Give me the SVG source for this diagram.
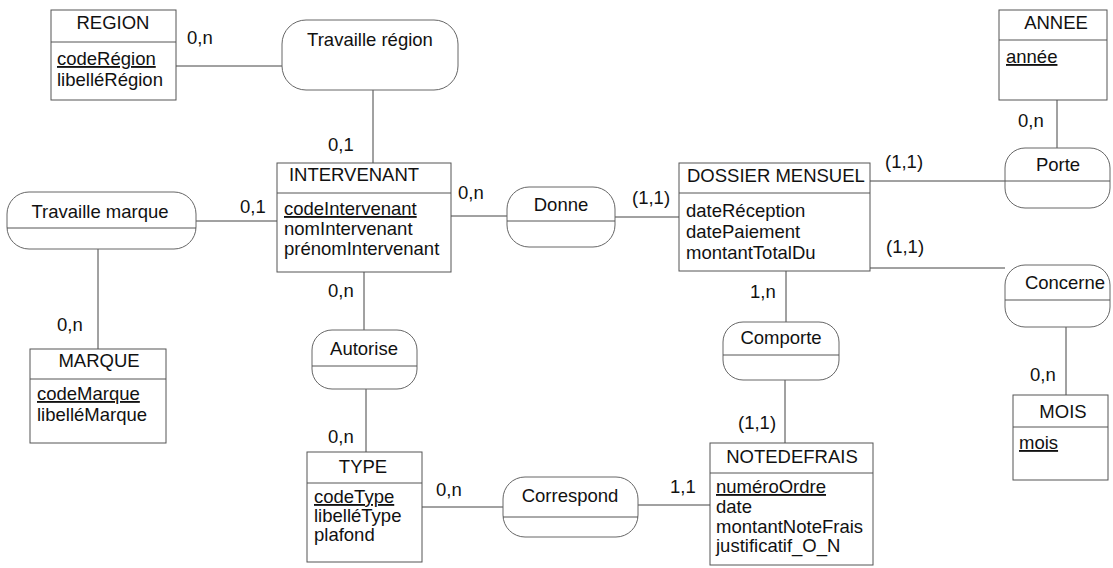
<svg xmlns="http://www.w3.org/2000/svg" width="1113" height="568" viewBox="0 0 1113 568">
<style>
  .bg{fill:#fff}
  .ent{fill:#fff;stroke:#555;stroke-width:1}
  .ass{fill:#fff;stroke:#666;stroke-width:1}
  .div{stroke:#555;stroke-width:1}
  .ln{stroke:#444;stroke-width:1;fill:none}
  text{font-family:"Liberation Sans",Arial,sans-serif;font-size:18.5px;fill:#111}
  .c{text-anchor:middle}
  .u{text-decoration:underline}
</style>
<rect class="bg" x="0" y="0" width="1113" height="568"/>

<g id="connectors">
  <line class="ln" x1="176" y1="66" x2="282" y2="66"/>
  <line class="ln" x1="373" y1="90" x2="373" y2="163"/>
  <line class="ln" x1="196" y1="221" x2="277" y2="221"/>
  <line class="ln" x1="98" y1="249" x2="98" y2="349"/>
  <line class="ln" x1="451" y1="216" x2="507" y2="216"/>
  <line class="ln" x1="615" y1="217" x2="679" y2="217"/>
  <line class="ln" x1="364" y1="272" x2="364" y2="330"/>
  <line class="ln" x1="366" y1="389" x2="366" y2="452"/>
  <line class="ln" x1="422" y1="507" x2="503" y2="507"/>
  <line class="ln" x1="638" y1="505" x2="710" y2="505"/>
  <line class="ln" x1="786" y1="271" x2="786" y2="322"/>
  <line class="ln" x1="785" y1="380" x2="785" y2="443"/>
  <line class="ln" x1="870" y1="181" x2="1005" y2="181"/>
  <line class="ln" x1="870" y1="268" x2="1005" y2="268"/>
  <line class="ln" x1="1057" y1="100" x2="1057" y2="148"/>
  <line class="ln" x1="1066" y1="327" x2="1066" y2="395"/>
  <text x="187" y="44">0,n</text>
  <text x="328" y="151">0,1</text>
  <text x="240" y="213">0,1</text>
  <text x="57" y="331">0,n</text>
  <text x="458" y="199">0,n</text>
  <text x="632" y="204">(1,1)</text>
  <text x="328" y="297">0,n</text>
  <text x="328" y="443">0,n</text>
  <text x="436" y="496">0,n</text>
  <text x="670" y="493">1,1</text>
  <text x="750" y="298">1,n</text>
  <text x="738" y="429">(1,1)</text>
  <text x="885" y="168">(1,1)</text>
  <text x="886" y="253">(1,1)</text>
  <text x="1018" y="127">0,n</text>
  <text x="1030" y="381">0,n</text>
</g>

<g id="region">
  <rect class="ent" x="51" y="10" width="125" height="90"/>
  <line class="div" x1="51" y1="42" x2="176" y2="42"/>
  <text class="c" x="113" y="29">REGION</text>
  <text class="u" x="57" y="65">codeRégion</text>
  <text x="57" y="86">libelléRégion</text>
</g>

<g id="travaille-region">
  <rect class="ass" x="282" y="20" width="176" height="70" rx="24"/>
  <text class="c" x="370" y="46">Travaille région</text>
</g>

<g id="travaille-marque">
  <rect class="ass" x="7" y="192" width="189" height="57" rx="22"/>
  <line class="div" x1="7" y1="228" x2="196" y2="228"/>
  <text class="c" x="100" y="218">Travaille marque</text>
</g>

<g id="intervenant">
  <rect class="ent" x="277" y="163" width="174" height="109"/>
  <line class="div" x1="277" y1="193" x2="451" y2="193"/>
  <text class="c" x="354" y="181">INTERVENANT</text>
  <text class="u" x="284" y="215">codeIntervenant</text>
  <text x="284" y="235">nomIntervenant</text>
  <text x="284" y="255">prénomIntervenant</text>
</g>

<g id="donne">
  <rect class="ass" x="507" y="187" width="108" height="60" rx="22"/>
  <line class="div" x1="507" y1="221" x2="615" y2="221"/>
  <text class="c" x="561" y="211">Donne</text>
</g>

<g id="dossier-mensuel">
  <rect class="ent" x="679" y="163" width="191" height="108"/>
  <line class="div" x1="679" y1="193" x2="870" y2="193"/>
  <text x="687" y="182">DOSSIER MENSUEL</text>
  <text x="686" y="217">dateRéception</text>
  <text x="686" y="238">datePaiement</text>
  <text x="686" y="259">montantTotalDu</text>
</g>

<g id="marque">
  <rect class="ent" x="30" y="349" width="136" height="94"/>
  <line class="div" x1="30" y1="379" x2="166" y2="379"/>
  <text class="c" x="99" y="367">MARQUE</text>
  <text class="u" x="37" y="400">codeMarque</text>
  <text x="37" y="421">libelléMarque</text>
</g>

<g id="autorise">
  <rect class="ass" x="312" y="330" width="105" height="59" rx="20"/>
  <line class="div" x1="312" y1="366" x2="417" y2="366"/>
  <text class="c" x="364" y="355">Autorise</text>
</g>

<g id="type">
  <rect class="ent" x="307" y="452" width="115" height="110"/>
  <line class="div" x1="307" y1="483" x2="422" y2="483"/>
  <text class="c" x="363" y="473">TYPE</text>
  <text class="u" x="314" y="503">codeType</text>
  <text x="314" y="522">libelléType</text>
  <text x="314" y="541">plafond</text>
</g>

<g id="correspond">
  <rect class="ass" x="503" y="477" width="135" height="60" rx="22"/>
  <line class="div" x1="503" y1="517" x2="638" y2="517"/>
  <text class="c" x="570" y="502">Correspond</text>
</g>

<g id="comporte">
  <rect class="ass" x="723" y="322" width="116" height="58" rx="20"/>
  <line class="div" x1="723" y1="355" x2="839" y2="355"/>
  <text class="c" x="781" y="344">Comporte</text>
</g>

<g id="notedefrais">
  <rect class="ent" x="710" y="443" width="163" height="122"/>
  <line class="div" x1="710" y1="473" x2="873" y2="473"/>
  <text class="c" x="792" y="463">NOTEDEFRAIS</text>
  <text class="u" x="716" y="493">numéroOrdre</text>
  <text x="716" y="513">date</text>
  <text x="716" y="533">montantNoteFrais</text>
  <text x="716" y="552">justificatif_O_N</text>
</g>

<g id="annee">
  <rect class="ent" x="999" y="10" width="108" height="90"/>
  <line class="div" x1="999" y1="40" x2="1107" y2="40"/>
  <text class="c" x="1056" y="29">ANNEE</text>
  <text class="u" x="1006" y="63">année</text>
</g>

<g id="porte">
  <rect class="ass" x="1005" y="148" width="105" height="60" rx="20"/>
  <line class="div" x1="1005" y1="181" x2="1110" y2="181"/>
  <text class="c" x="1058" y="171">Porte</text>
</g>

<g id="concerne">
  <rect class="ass" x="1005" y="265" width="105" height="62" rx="20"/>
  <line class="div" x1="1005" y1="300" x2="1110" y2="300"/>
  <text class="c" x="1065" y="289">Concerne</text>
</g>

<g id="mois">
  <rect class="ent" x="1013" y="395" width="95" height="85"/>
  <line class="div" x1="1013" y1="427" x2="1108" y2="427"/>
  <text class="c" x="1063" y="418">MOIS</text>
  <text class="u" x="1019" y="449">mois</text>
</g>
</svg>
